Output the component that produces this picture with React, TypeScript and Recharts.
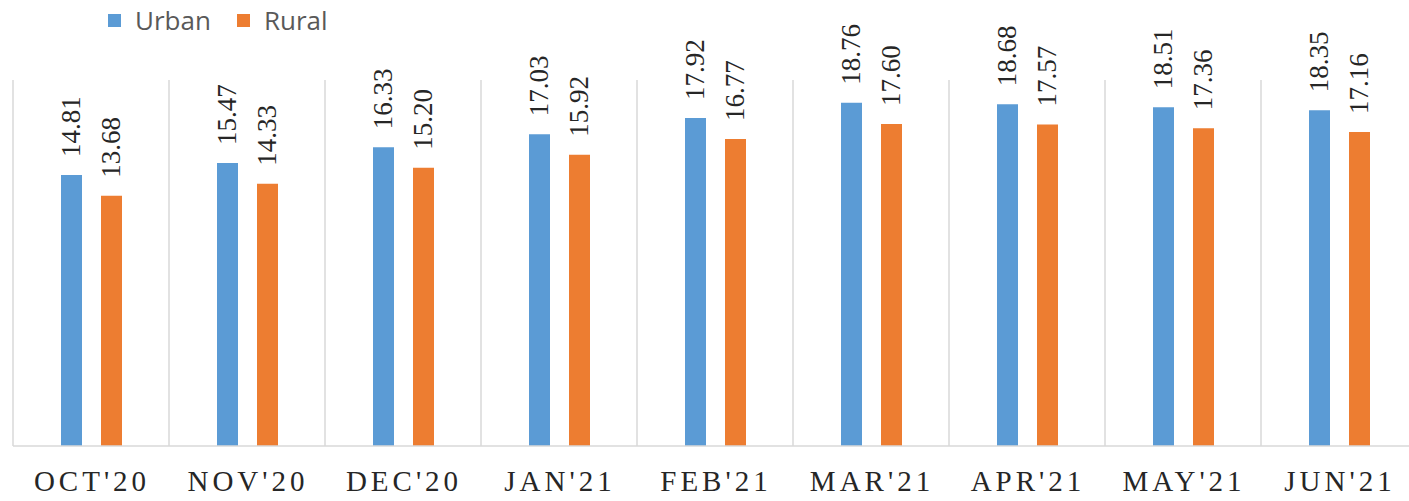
import { BarChart, Bar, XAxis, YAxis, CartesianGrid, LabelList } from "recharts"

const months = ["OCT'20", "NOV'20", "DEC'20", "JAN'21", "FEB'21", "MAR'21", "APR'21", "MAY'21", "JUN'21"]
const urban = [14.81, 15.47, 16.33, 17.03, 17.92, 18.76, 18.68, 18.51, 18.35]
const rural = [13.68, 14.33, 15.2, 15.92, 16.77, 17.6, 17.57, 17.36, 17.16]
const boundaries = [0, 1, 2, 3, 4, 5, 6, 7, 8, 9]

const series = [
    { key: "urban", label: "Urban", color: "#5B9BD5" },
    { key: "rural", label: "Rural", color: "#ED7D31" },
]

const data = months.map((m, i) => ({ month: m, idx: i + 0.5, urban: urban[i], rural: rural[i] }))

const serif = "Liberation Serif, Tinos, Times, serif"

function ValueLabel(props: any) {
    const { x, y, width, value } = props
    const cx = x + width / 2
    const top = y - 18
    return (
        <text
            x={cx}
            y={top}
            transform={`rotate(-90 ${cx} ${top})`}
            textAnchor="start"
            dominantBaseline="central"
            style={{ fontFamily: serif, fontSize: 27 }}
            fill="#262626"
        >
            {Number(value).toFixed(2)}
        </text>
    )
}

function MonthTick(props: any) {
    const { x, y, payload } = props
    return (
        <text
            x={x + 1}
            y={y + 45}
            textAnchor="middle"
            style={{ fontFamily: serif, fontSize: 29, letterSpacing: 4 }}
            fill="#262626"
        >
            {payload.value}
        </text>
    )
}

export default function App() {
    return (
        <div style={{ position: "fixed", left: 0, top: 0, width: 1409, height: 501, overflow: "hidden", background: "#fff" }}>
            <div style={{ position: "absolute", left: 108, top: 2, display: "flex", alignItems: "center", fontFamily: "'Open Sans', sans-serif", fontSize: 26, color: "#595959", zIndex: 2 }}>
                {series.map((s) => (
                    <div key={s.key} style={{ display: "flex", alignItems: "center", marginRight: 26 }}>
                        <span style={{ width: 13, height: 13, background: s.color, display: "inline-block", marginRight: 14 }} />
                        <span>{s.label}</span>
                    </div>
                ))}
            </div>
            <BarChart
                width={1417}
                height={501}
                data={data}
                margin={{ top: 80, right: 0, left: 13, bottom: 0 }}
                barSize={21}
                barGap={19}
            >
                <XAxis xAxisId="grid" type="number" dataKey="idx" domain={[0, 9]} ticks={boundaries} hide />
                <CartesianGrid xAxisId="grid" horizontal={false} vertical stroke="#d9d9d9" strokeWidth={1.5} />
                <XAxis
                    dataKey="month"
                    height={55}
                    tickLine={false}
                    tickSize={0}
                    tickMargin={0}
                    axisLine={{ stroke: "#d9d9d9", strokeWidth: 1.5 }}
                    tick={<MonthTick />}
                    interval={0}
                />
                <YAxis domain={[0, 20]} hide />
                {series.map((s) => (
                    <Bar key={s.key} dataKey={s.key} name={s.label} fill={s.color} isAnimationActive={false}>
                        <LabelList dataKey={s.key} content={<ValueLabel />} />
                    </Bar>
                ))}
            </BarChart>
        </div>
    )
}
